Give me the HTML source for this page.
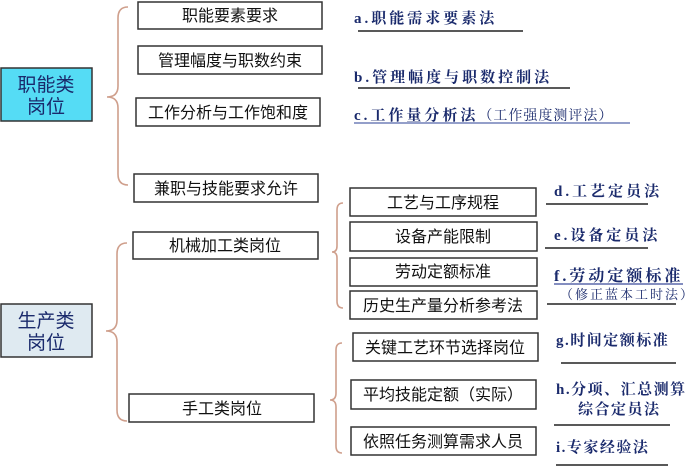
<!DOCTYPE html>
<html><head><meta charset="utf-8"><style>
html,body{margin:0;padding:0;background:#fff;}
svg{display:block;}
.bx{fill:#fff;stroke:#333;stroke-width:1.5;}
.bt{font-family:"Liberation Sans","Noto Sans CJK SC",sans-serif;font-size:16px;fill:#111;text-anchor:middle;}
.lb{font-family:"Liberation Serif","Noto Serif CJK SC",serif;font-weight:bold;font-size:15px;fill:#1a2a6c;letter-spacing:3px;}
.br{fill:none;stroke:#cf9f8c;stroke-width:1.6;}
.ul{stroke:#222;stroke-width:1.5;}
</style></head><body>
<svg width="700" height="466" viewBox="0 0 700 466" xmlns="http://www.w3.org/2000/svg">
<rect x="1" y="68" width="91" height="53" fill="#55dcf5" stroke="#333" stroke-width="1.5"/>
<text x="46" y="91" class="bt" style="font-size:19px;fill:#1a2a6c">职能类</text>
<text x="46" y="113" class="bt" style="font-size:19px;fill:#1a2a6c">岗位</text>
<rect x="1" y="304" width="91" height="53" fill="#dfeaf1" stroke="#333" stroke-width="1.5"/>
<text x="46" y="327" class="bt" style="font-size:19px;fill:#1a2a6c">生产类</text>
<text x="46" y="349" class="bt" style="font-size:19px;fill:#1a2a6c">岗位</text>
<path class="br" d="M128 7 Q118 7 118 18 L118 86 Q118 97 107 97 Q118 97 118 108 L118 174 Q118 185 128 185"/>
<path class="br" d="M127 243 Q117 243 117 254 L117 320 Q117 331 106 331 Q117 331 117 342 L117 410 Q117 421 127 421"/>
<path class="br" d="M343 203 Q337 203 337 210 L337 246 Q337 252 332 252 Q337 252 337 258 L337 301 Q337 308 343 308"/>
<path class="br" d="M342 343 Q336 343 336 350 L336 393 Q336 400 330 400 Q336 400 336 407 L336 446 Q336 453 342 453"/>
<rect class="bx" x="138" y="2" width="184" height="27"/><text class="bt" x="230" y="21">职能要素要求</text>
<rect class="bx" x="138" y="46" width="184" height="28"/><text class="bt" x="230" y="66">管理幅度与职数约束</text>
<rect class="bx" x="136" y="98" width="184" height="28"/><text class="bt" x="228" y="118">工作分析与工作饱和度</text>
<rect class="bx" x="134" y="174" width="184" height="28"/><text class="bt" x="226" y="194">兼职与技能要求允许</text>
<rect class="bx" x="133" y="232" width="185" height="27"/><text class="bt" x="225" y="251">机械加工类岗位</text>
<rect class="bx" x="129" y="394" width="185" height="28"/><text class="bt" x="222" y="414">手工类岗位</text>
<rect class="bx" x="350" y="188" width="186" height="28"/><text class="bt" x="443" y="208">工艺与工序规程</text>
<rect class="bx" x="350" y="222" width="187" height="29"/><text class="bt" x="443" y="242">设备产能限制</text>
<rect class="bx" x="350" y="258" width="187" height="28"/><text class="bt" x="443" y="277">劳动定额标准</text>
<rect class="bx" x="350" y="291" width="187" height="28"/><text class="bt" x="443" y="311">历史生产量分析参考法</text>
<rect class="bx" x="353" y="333" width="185" height="28"/><text class="bt" x="445" y="353">关键工艺环节选择岗位</text>
<rect class="bx" x="351" y="380" width="185" height="29"/><text class="bt" x="443" y="400">平均技能定额（实际）</text>
<rect class="bx" x="351" y="427" width="185" height="28"/><text class="bt" x="443" y="447">依照任务测算需求人员</text>
<text class="lb" x="354" y="23">a.职能需求要素法</text><line class="ul" x1="358" y1="31" x2="523" y2="31"/>
<text class="lb" x="354" y="82">b.管理幅度与职数控制法</text><line class="ul" x1="358" y1="88" x2="570" y2="88"/>
<text class="lb" x="354" y="120">c.工作量分析法<tspan style="font-size:14px;font-weight:normal;letter-spacing:1px">（工作强度测评法）</tspan></text><line x1="354" y1="123" x2="630" y2="123" stroke="#5566aa" stroke-width="1.3"/>
<text class="lb" x="554" y="196">d.工艺定员法</text><line class="ul" x1="546" y1="204" x2="648" y2="204"/>
<text class="lb" x="554" y="240">e.设备定员法</text><line class="ul" x1="545" y1="248" x2="648" y2="248"/>
<text class="lb" x="554" y="281" style="font-size:16px">f.劳动定额标准</text><line x1="554" y1="284" x2="683" y2="284" stroke="#3a4a9a" stroke-width="1.3"/>
<text class="lb" x="560" y="299" style="font-size:13px;font-weight:normal;letter-spacing:2px">（修正蓝本工时法）</text><line class="ul" x1="547" y1="304" x2="676" y2="304"/>
<text class="lb" x="556" y="345" style="letter-spacing:1.5px">g.时间定额标准</text><line class="ul" x1="561" y1="363" x2="676" y2="363"/>
<text class="lb" x="556" y="394" style="letter-spacing:1.5px">h.分项、汇总测算</text>
<text class="lb" x="578" y="414" style="letter-spacing:1.5px">综合定员法</text><line class="ul" x1="554" y1="425" x2="670" y2="425"/>
<text class="lb" x="556" y="452" style="letter-spacing:1.5px">i.专家经验法</text><line class="ul" x1="556" y1="465" x2="668" y2="465"/>
</svg>
</body></html>
